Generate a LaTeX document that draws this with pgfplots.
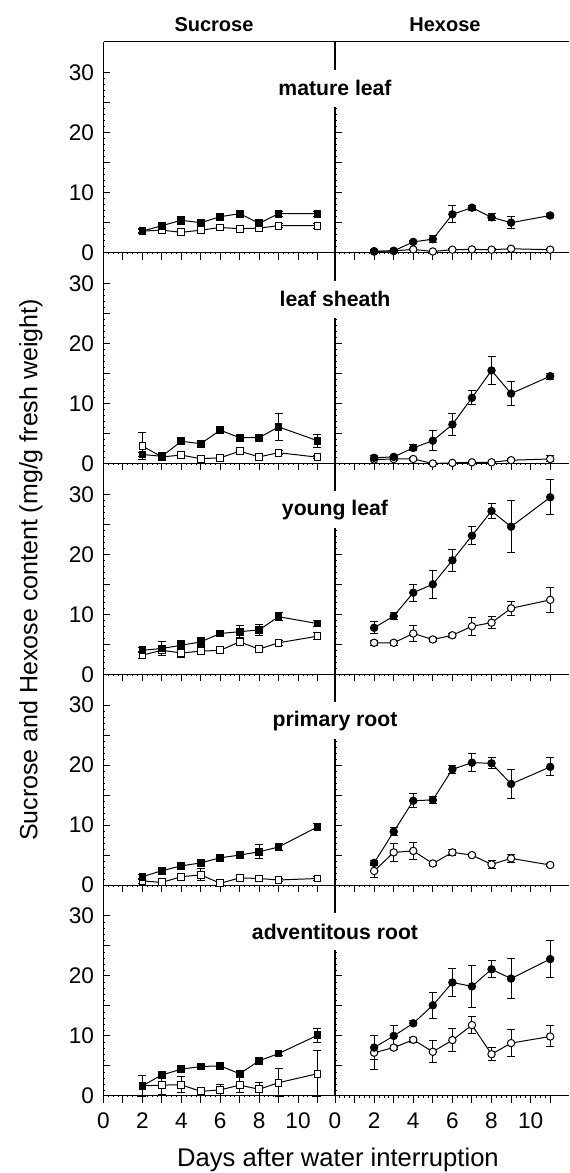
\documentclass[border=0pt]{standalone}
\usepackage{fontspec}
\setmainfont{Liberation Sans}
\usepackage{pgfplots}
\usepackage{pgfplotstable}
\pgfplotsset{compat=1.18}

\pgfplotstableread{
x sf sfe so soe hf hfe ho hoe
2 3.6 0.4 3.6 0.3 0.25 0.2 0.2 0.2
3 4.5 0.5 3.75 0.3 0.3 0.2 0.3 0.2
4 5.4 0.7 3.4 0.5 1.8 0.3 0.55 0.2
5 5.0 0.5 3.75 0.4 2.25 0.6 0.2 0.1
6 6.0 0.5 4.2 0.3 6.4 1.4 0.5 0.2
7 6.5 0.4 4.0 0.3 7.5 0.4 0.55 0.2
8 4.9 0.5 4.1 0.3 5.9 0.6 0.5 0.2
9 6.5 0.4 4.5 0.3 5.0 1.0 0.65 0.2
11 6.5 0.4 4.5 0.4 6.2 0.4 0.5 0.2
}\tA
\pgfplotstableread{
x sf sfe so soe hf hfe ho hoe
2 1.5 0.4 2.9 2.3 0.95 0.3 0.65 0.2
3 1.2 0.3 1.1 0.3 1.1 0.3 0.75 0.2
4 3.7 0.5 1.4 0.5 2.6 0.5 0.75 0.2
5 3.3 0.5 0.8 0.3 3.8 1.7 0.0 0.1
6 5.55 0.5 0.95 0.3 6.5 1.8 0.1 0.1
7 4.3 0.4 2.05 0.6 10.95 1.2 0.2 0.1
8 4.3 0.4 1.1 0.3 15.5 2.3 0.2 0.1
9 6.1 2.3 1.8 0.3 11.65 2.0 0.55 0.2
11 3.8 1.1 1.05 0.3 14.55 0.5 0.75 0.5
}\tB
\pgfplotstableread{
x sf sfe so soe hf hfe ho hoe
2 4.0 0.4 3.2 0.6 7.75 1.0 5.25 0.4
3 4.3 1.1 4.0 0.4 9.7 0.6 5.25 0.4
4 4.85 0.7 3.55 0.8 13.6 1.4 6.8 1.3
5 5.4 0.8 3.85 0.4 15.0 2.35 5.8 0.3
6 6.8 0.5 4.0 0.4 19.0 1.8 6.5 0.3
7 7.1 1.0 5.4 0.5 23.1 1.5 8.0 1.5
8 7.4 0.9 4.2 0.4 27.2 1.3 8.6 1.0
9 9.6 0.7 5.25 0.4 24.6 4.35 11.0 1.2
11 8.45 0.5 6.35 0.6 29.5 2.9 12.4 2.1
}\tC
\pgfplotstableread{
x sf sfe so soe hf hfe ho hoe
2 1.4 0.4 0.7 0.4 3.7 0.4 2.35 1.05
3 2.4 0.3 0.45 0.3 8.9 0.7 5.45 1.5
4 3.2 0.4 1.4 0.4 14.05 1.2 5.7 1.4
5 3.7 0.4 1.7 1.0 14.2 0.6 3.6 0.3
6 4.55 0.5 0.3 0.3 19.3 0.7 5.45 0.5
7 5.0 0.5 1.2 0.4 20.4 1.5 5.0 0.3
8 5.55 1.2 1.1 0.3 20.3 0.9 3.45 0.7
9 6.35 0.6 0.85 0.3 16.85 2.35 4.45 0.7
11 9.7 0.5 1.1 0.3 19.7 1.5 3.35 0.3
}\tD
\pgfplotstableread{
x sf sfe so soe hf hfe ho hoe
2 1.67 1.7 1.67 1.7 8.05 2.0 7.2 2.8
3 3.5 0.4 1.8 1.5 10.0 1.8 8.05 0.4
4 4.45 0.5 1.85 1.3 12.1 0.4 9.35 0.4
5 4.9 0.5 0.75 0.5 15.1 2.2 7.35 1.8
6 5.0 0.5 1.0 0.9 18.9 2.3 9.3 1.9
7 3.7 0.3 1.8 1.2 18.25 3.5 11.8 1.4
8 5.85 0.4 1.1 1.1 21.1 1.4 6.95 1.1
9 7.05 0.4 2.2 2.3 19.55 3.4 8.8 2.2
11 10.1 1.2 3.7 3.8 22.8 3.05 9.9 1.75
}\tE

\pgfplotsset{
  base/.style={
    scale only axis, height=105.4pt, ymin=0, ymax=35.13,
    axis x line*=bottom, axis y line*=left,
    xtick={0,...,11}, ytick={0,5,...,30},
    minor x tick num=3, minor y tick num=4,
    xtick align=outside, ytick align=inside,
    major tick length=3.5pt,
    minor x tick style={line width=0.4pt},
    minor y tick style={line width=0.3pt},
    minor tick length=0.8pt,
    tick style={black, line width=0.5pt},
    axis line style={black, line width=0.55pt},
    xticklabels={}, yticklabels={},
    clip=false,
    /pgf/number format/assume math mode=true,
    tick label style={font=\fontsize{11.3}{13}\selectfont},
    xticklabel style={yshift=-1.5pt},
    yticklabel style={xshift=-1.2pt},
  },
  leftcol/.style={base, at={(51.75pt,#1)}, anchor=south west, width=115.75pt, xmin=0, xmax=11.9},
  rightcol/.style={base, at={(167.5pt,#1)}, anchor=south west, width=117pt, xmin=0, xmax=11.96},
  leftlab/.style={yticklabels={0,,10,,20,,30}},
  botlab/.style={xticklabels={0,,2,,4,,6,,8,,10,}},
  errs/.style={
    /pgfplots/error bars/y dir=both,
    /pgfplots/error bars/y explicit,
    /pgfplots/error bars/error bar style={black, line width=0.5pt},
    /pgfplots/error bars/error mark options={rotate=90, mark size=2pt, line width=0.5pt, black},
  },
  sopen/.style={black, line width=0.5pt, mark=square*, mark size=1.7pt, mark options={fill=white, draw=black, line width=0.5pt}, errs},
  sfill/.style={black, line width=0.5pt, mark=square*, mark size=1.7pt, mark options={fill=black, draw=black}, errs},
  hopen/.style={black, line width=0.5pt, mark=*, mark size=1.85pt, mark options={fill=white, draw=black, line width=0.5pt}, errs},
  hfill/.style={black, line width=0.5pt, mark=*, mark size=1.85pt, mark options={fill=black, draw=black}, errs},
}

\newcommand{\panelpair}[4]{%
  \begin{axis}[leftcol=#2, leftlab, #3]
    \addplot[sopen] table[x=x, y=so, y error=soe] {#1};
    \addplot[sfill] table[x=x, y=sf, y error=sfe] {#1};
  \end{axis}
  \begin{axis}[rightcol=#2, #4]
    \addplot[hopen] table[x=x, y=ho, y error=hoe] {#1};
    \addplot[hfill] table[x=x, y=hf, y error=hfe] {#1};
  \end{axis}
}

\begin{document}
\begin{tikzpicture}
\useasboundingbox (0,0) rectangle (284.5pt,586.5pt);
\panelpair{\tA}{460.15pt}{}{}
\panelpair{\tB}{354.75pt}{}{}
\panelpair{\tC}{249.35pt}{}{}
\panelpair{\tD}{143.95pt}{}{}
\panelpair{\tE}{38.55pt}{botlab}{botlab}
% top frame line
\draw[black, line width=0.55pt] (51.75pt,565.55pt) -- (284.5pt,565.55pt);
% panel labels
\tikzset{plab/.style={fill=white, inner xsep=1pt, minimum height=18.5pt, font=\fontsize{10.6}{12}\selectfont\bfseries}}
\node[plab] at (167.5pt,542.35pt) {mature leaf};
\node[plab] at (167.5pt,436.95pt) {leaf sheath};
\node[plab] at (167.5pt,331.55pt) {young leaf};
\node[plab] at (167.5pt,226.15pt) {primary root};
\node[plab] at (167.5pt,120.75pt) {adventitous root};
% column titles
\node[anchor=base, font=\fontsize{10}{12}\selectfont\bfseries] at (107pt,570.5pt) {Sucrose};
\node[anchor=base, font=\fontsize{10}{12}\selectfont\bfseries] at (222.5pt,570.5pt) {Hexose};
% axis titles
\node[rotate=90, font=\fontsize{12.5}{14}\selectfont] at (15.5pt,301.5pt) {Sucrose and Hexose content (mg/g fresh weight)};
\node[anchor=base, font=\fontsize{12.8}{14}\selectfont] at (169pt,3.2pt) {Days after water interruption};
\end{tikzpicture}
\end{document}
